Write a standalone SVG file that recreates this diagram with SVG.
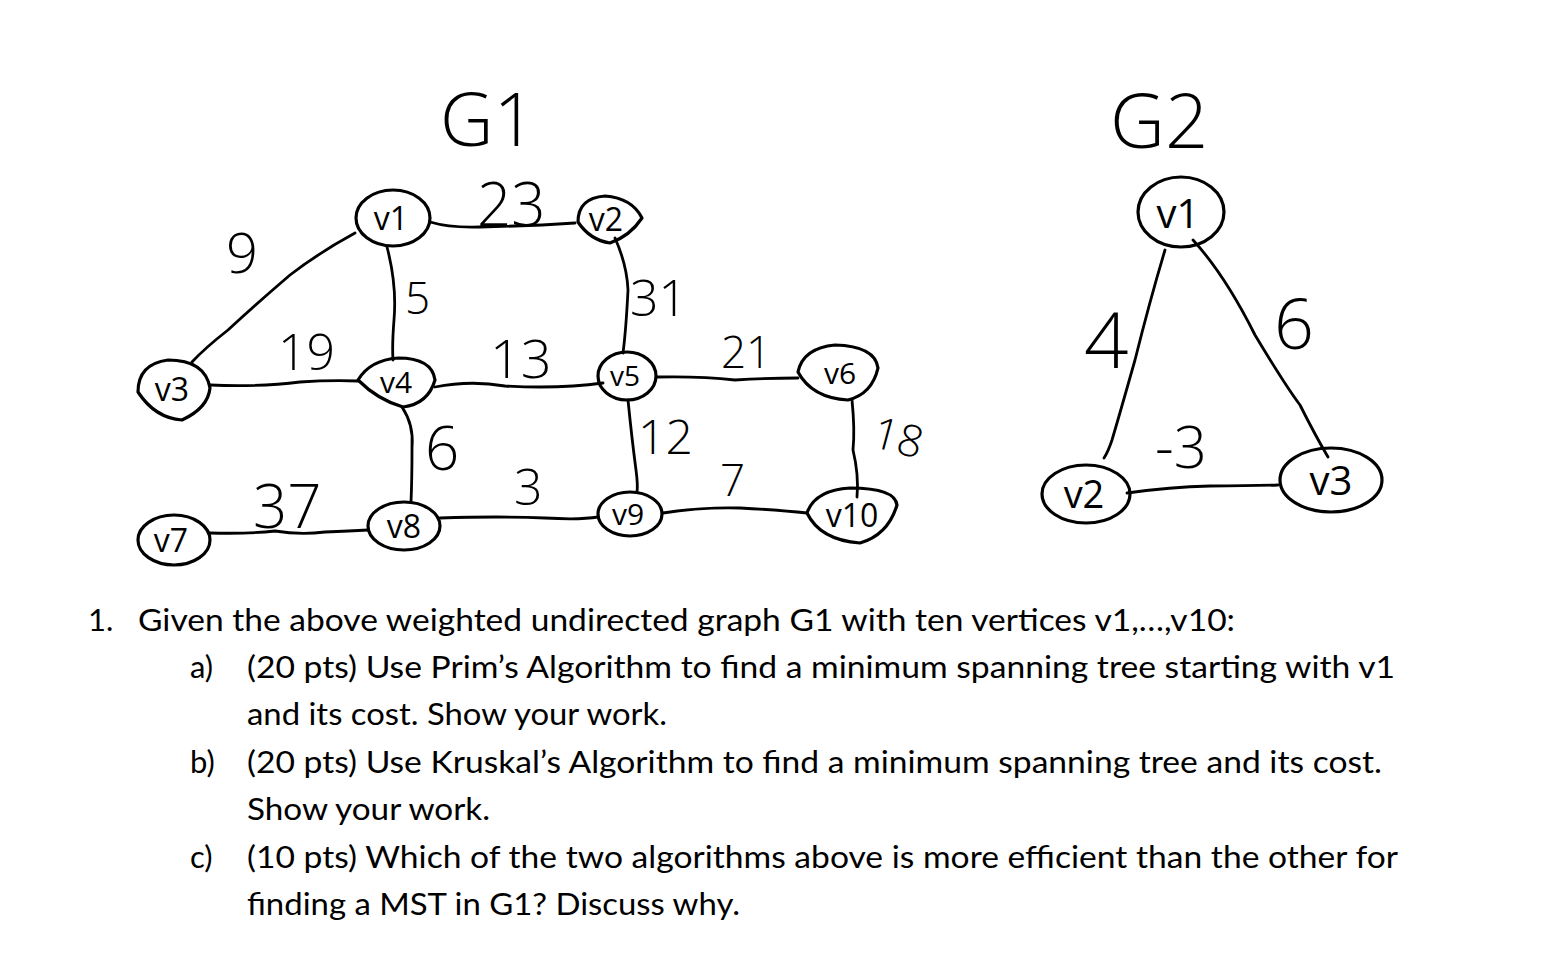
<svg xmlns="http://www.w3.org/2000/svg" width="1548" height="964" viewBox="0 0 1548 964">
<style>
.n{fill:none;stroke:#000;stroke-width:3.2;stroke-linecap:round;stroke-linejoin:round}
.e{fill:none;stroke:#000;stroke-width:2.8;stroke-linecap:round;stroke-linejoin:round}
.nl{font-family:"Open Sans","DejaVu Sans",sans-serif;font-weight:400;fill:#000;text-anchor:middle}
.w{font-family:"Open Sans","DejaVu Sans",sans-serif;font-weight:300;fill:#000}
.q{font-family:Lato,"Open Sans","Liberation Sans",sans-serif;font-size:31px;fill:#000}
</style>
<rect width="1548" height="964" fill="#fff"/>
<g id="titles">
<text class="w" x="440" y="146" font-size="74">G1</text>
<text class="w" x="1110" y="148" font-size="76">G2</text>
</g>
<g id="connectors">
<path class="e" d="M355,233 Q320,252 290,275 Q255,305 228,330 Q205,348 192,362"/>
<path class="e" d="M430,222 Q450,228 480,227 Q530,226 575,223"/>
<path class="e" d="M387,247 Q397,285 394,320 Q392,345 393,360"/>
<path class="e" d="M615,238 Q627,265 628,290 Q626,330 623,353"/>
<path class="e" d="M210,385 Q260,387 300,382 Q330,380 358,381"/>
<path class="e" d="M435,387 Q470,380 505,386 Q560,389 603,383"/>
<path class="e" d="M402,407 Q414,425 412,447 Q412,480 411,502"/>
<path class="e" d="M657,377 Q700,376 735,380 Q770,378 798,378"/>
<path class="e" d="M628,400 Q632,440 636,470 Q638,485 637,492"/>
<path class="e" d="M852,400 Q855,430 853,450 Q859,475 857,497"/>
<path class="e" d="M210,533 Q250,534 275,531 Q300,535 325,532 Q350,531 368,530"/>
<path class="e" d="M440,518 Q500,516 545,518 Q580,520 598,517"/>
<path class="e" d="M663,513 Q700,507 740,508 Q780,510 807,513"/>
<path class="e" d="M1165,250 Q1150,300 1135,360 Q1118,420 1112,440 Q1108,452 1104,458"/>
<path class="e" d="M1193,240 Q1225,275 1255,335 Q1285,385 1300,405 Q1315,435 1328,457"/>
<path class="e" d="M1127,493 Q1170,487 1210,486 Q1250,486 1278,485"/>
</g>
<g id="weights">
<text class="w" x="477" y="226" font-size="60">23</text>
<text class="w" x="226" y="273" font-size="56">9</text>
<text class="w" x="405" y="314" font-size="44">5</text>
<text class="w" x="630" y="316" font-size="50">31</text>
<text class="w" x="278" y="370" font-size="50">19</text>
<text class="w" x="490" y="378" font-size="54">13</text>
<text class="w" x="721" y="368" font-size="44">21</text>
<text class="w" x="425" y="470" font-size="60">6</text>
<text class="w" x="514" y="505" font-size="50">3</text>
<text class="w" x="638" y="454" font-size="48">12</text>
<text class="w" x="720" y="496" font-size="44">7</text>
<text class="w" transform="translate(870,446) rotate(15)" font-size="44">18</text>
<text class="w" x="253" y="528" font-size="60">37</text>
<text class="w" x="1084" y="368" font-size="78">4</text>
<text class="w" x="1274" y="349" font-size="70">6</text>
<text class="w" x="1155" y="468" font-size="58">-3</text>
</g>
<g id="v1"><ellipse class="n" cx="393" cy="218" rx="37" ry="28"/><text class="nl" x="391" y="230" font-size="32">v1</text></g>
<g id="v2"><path class="n" d="M578,222 Q578,198 605,196 Q632,198 642,218 Q630,236 610,243 Q590,240 578,222 Z"/><text class="nl" x="606" y="231" font-size="32">v2</text></g>
<g id="v3"><path class="n" d="M138,392 Q138,364 168,360 Q205,360 210,388 Q208,408 182,420 Q155,418 138,392 Z"/><text class="nl" x="172" y="401" font-size="32">v3</text></g>
<g id="v4"><path class="n" d="M358,380 Q370,360 398,358 Q432,358 435,380 Q428,404 403,407 Q378,400 358,380 Z"/><text class="nl" x="396" y="393" font-size="30">v4</text></g>
<g id="v5"><ellipse class="n" cx="627" cy="376" rx="29" ry="24"/><text class="nl" x="625" y="386" font-size="28">v5</text></g>
<g id="v6"><path class="n" d="M798,372 Q803,348 835,345 Q875,346 878,368 Q872,394 848,400 Q812,398 798,372 Z"/><text class="nl" x="840" y="384" font-size="30">v6</text></g>
<g id="v7"><ellipse class="n" cx="174" cy="540" rx="36" ry="25"/><text class="nl" x="171" y="552" font-size="32">v7</text></g>
<g id="v8"><ellipse class="n" cx="404" cy="526" rx="36" ry="24"/><text class="nl" x="404" y="538" font-size="32">v8</text></g>
<g id="v9"><ellipse class="n" cx="630" cy="514" rx="32" ry="22"/><text class="nl" x="628" y="525" font-size="30">v9</text></g>
<g id="v10"><path class="n" d="M807,513 Q815,490 850,488 Q895,488 897,505 Q888,535 860,543 Q820,540 807,513 Z"/><text class="nl" x="852" y="527" font-size="32">v10</text></g>
<g id="g2v1"><ellipse class="n" cx="1181" cy="212" rx="43" ry="35"/><text class="nl" x="1178" y="228" font-size="40">v1</text></g>
<g id="g2v2"><ellipse class="n" cx="1086" cy="494" rx="44" ry="29"/><text class="nl" x="1084" y="508" font-size="38">v2</text></g>
<g id="g2v3"><ellipse class="n" cx="1331" cy="480" rx="51" ry="32"/><text class="nl" x="1331" y="495" font-size="40">v3</text></g>
<g id="question">
<text class="q" x="88" y="631">1.</text>
<text class="q" x="138" y="631" textLength="1097" lengthAdjust="spacingAndGlyphs">Given the above weighted undirected graph G1 with ten vertices v1,…,v10:</text>
<text class="q" x="190" y="678">a)</text>
<text class="q" x="247" y="678" textLength="1148" lengthAdjust="spacingAndGlyphs">(20 pts) Use Prim’s Algorithm to find a minimum spanning tree starting with v1</text>
<text class="q" x="247" y="725" textLength="420" lengthAdjust="spacingAndGlyphs">and its cost. Show your work.</text>
<text class="q" x="190" y="773">b)</text>
<text class="q" x="247" y="773" textLength="1135" lengthAdjust="spacingAndGlyphs">(20 pts) Use Kruskal’s Algorithm to find a minimum spanning tree and its cost.</text>
<text class="q" x="247" y="820" textLength="243" lengthAdjust="spacingAndGlyphs">Show your work.</text>
<text class="q" x="190" y="868">c)</text>
<text class="q" x="247" y="868" textLength="1151" lengthAdjust="spacingAndGlyphs">(10 pts) Which of the two algorithms above is more efficient than the other for</text>
<text class="q" x="247" y="915" textLength="493" lengthAdjust="spacingAndGlyphs">finding a MST in G1? Discuss why.</text>
</g>
</svg>
